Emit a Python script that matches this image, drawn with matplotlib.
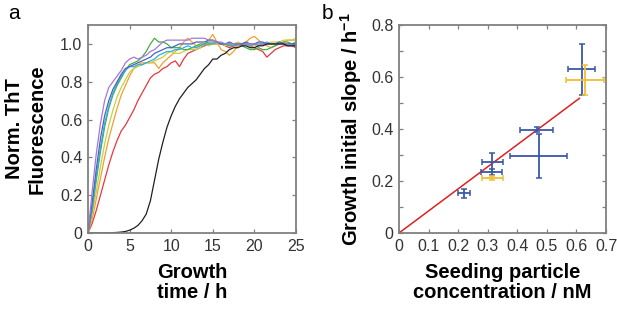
import numpy as np
import matplotlib
matplotlib.use("Agg")
import matplotlib.pyplot as plt
from matplotlib.ticker import MultipleLocator, FuncFormatter

plt.rcParams['font.family'] = ['Liberation Sans', 'DejaVu Sans']
plt.rcParams['mathtext.fontset'] = 'custom'
plt.rcParams['mathtext.rm'] = 'Liberation Sans:bold'
plt.rcParams['mathtext.bf'] = 'Liberation Sans:bold'

# ---------------- Panel a data ----------------
time_h = [0, 0.5, 1, 1.5, 2, 2.5, 3, 3.5, 4, 4.5, 5, 5.5, 6, 6.5, 7, 7.5, 8, 8.5, 9, 9.5,
          10, 10.5, 11, 11.5, 12, 12.5, 13, 13.5, 14, 14.5, 15, 15.5, 16, 16.5, 17, 17.5,
          18, 18.5, 19, 19.5, 20, 20.5, 21, 21.5, 22, 22.5, 23, 23.5, 24, 24.5, 25]

purple = [0, 0.22, 0.42, 0.58, 0.70, 0.77, 0.80, 0.83, 0.86, 0.90, 0.92, 0.93, 0.92, 0.93, 0.94, 0.96,
          0.97, 0.99, 1.01, 1.02, 1.02, 1.02, 1.02, 1.02, 1.02, 1.03, 1.03, 1.03, 1.03, 1.02, 1.02, 1.01,
          1.01, 1.00, 1.00, 1.00, 1.00, 0.99, 1.00, 1.00, 1.00, 0.99, 1.00, 1.00, 1.00, 1.00, 1.00, 1.00,
          1.00, 0.99, 0.99]
blue = [0, 0.16, 0.34, 0.50, 0.62, 0.70, 0.76, 0.80, 0.84, 0.87, 0.88, 0.89, 0.90, 0.91, 0.92, 0.93,
        0.95, 0.96, 0.97, 0.98, 0.98, 0.99, 1.00, 1.00, 1.00, 1.00, 1.01, 1.01, 1.01, 1.02, 1.02, 1.01,
        1.00, 1.00, 1.01, 1.00, 1.00, 1.00, 1.01, 1.00, 1.00, 1.01, 1.01, 1.00, 1.00, 1.00, 1.01, 1.00,
        1.00, 1.00, 1.00]
cyan = [0, 0.13, 0.30, 0.45, 0.58, 0.67, 0.74, 0.79, 0.83, 0.86, 0.88, 0.88, 0.89, 0.89, 0.90, 0.91,
        0.92, 0.94, 0.95, 0.96, 0.96, 0.97, 0.97, 0.98, 0.99, 0.98, 0.98, 0.99, 1.00, 1.00, 1.00, 1.01,
        1.00, 1.00, 1.00, 0.99, 1.00, 1.00, 1.00, 0.99, 1.00, 1.00, 1.00, 1.01, 1.00, 1.00, 1.00, 1.00,
        1.00, 1.00, 1.00]
green = [0, 0.12, 0.28, 0.43, 0.56, 0.66, 0.73, 0.78, 0.82, 0.86, 0.89, 0.90, 0.91, 0.93, 0.96, 1.00,
         1.03, 1.01, 1.01, 1.00, 0.98, 0.98, 0.98, 0.97, 0.97, 0.98, 0.99, 1.00, 1.00, 1.01, 1.01, 1.01,
         1.00, 1.00, 0.99, 0.99, 1.00, 0.99, 0.98, 0.97, 0.97, 0.98, 0.97, 0.97, 0.98, 0.99, 1.00, 1.01,
         1.01, 1.00, 1.01]
yellow = [0, 0.10, 0.22, 0.35, 0.47, 0.57, 0.65, 0.72, 0.77, 0.81, 0.85, 0.87, 0.88, 0.89, 0.90, 0.90,
          0.91, 0.92, 0.93, 0.95, 0.96, 0.95, 0.95, 0.96, 0.97, 0.97, 0.97, 0.98, 1.00, 0.99, 1.00, 1.00,
          1.00, 0.99, 1.00, 1.00, 1.01, 1.00, 1.00, 0.99, 0.99, 1.00, 1.00, 1.00, 1.01, 1.01, 1.01, 1.02,
          1.02, 1.02, 1.03]
orange = [0, 0.07, 0.18, 0.29, 0.40, 0.50, 0.58, 0.66, 0.73, 0.78, 0.83, 0.87, 0.89, 0.90, 0.90, 0.90,
          0.90, 0.87, 0.90, 0.92, 0.94, 0.96, 0.98, 1.01, 1.03, 1.01, 0.99, 0.99, 1.00, 1.02, 1.05, 1.01,
          0.97, 0.96, 0.94, 0.96, 0.99, 1.00, 1.01, 1.03, 1.04, 1.02, 1.00, 0.99, 0.98, 0.99, 1.00, 1.01,
          1.02, 1.02, 1.02]
red = [0, 0.05, 0.12, 0.20, 0.28, 0.36, 0.43, 0.49, 0.54, 0.57, 0.61, 0.65, 0.70, 0.74, 0.78, 0.82,
       0.84, 0.85, 0.87, 0.88, 0.90, 0.91, 0.88, 0.92, 0.95, 0.96, 0.97, 0.98, 0.99, 1.00, 1.00, 1.00,
       1.00, 0.99, 0.98, 0.99, 0.99, 1.00, 1.00, 0.99, 0.98, 0.97, 0.96, 0.93, 0.95, 0.97, 0.98, 0.99,
       0.99, 0.99, 0.98]
black = [0, 0, 0, 0, 0.001, 0.001, 0.002, 0.003, 0.005, 0.008, 0.015, 0.025, 0.04, 0.065, 0.10, 0.17,
         0.28, 0.39, 0.48, 0.56, 0.62, 0.67, 0.71, 0.74, 0.77, 0.79, 0.81, 0.84, 0.87, 0.89, 0.92, 0.92,
         0.94, 0.95, 0.97, 0.98, 0.98, 0.99, 0.99, 0.98, 0.98, 0.99, 0.99, 1.00, 1.00, 1.00, 1.00, 1.00,
         0.99, 0.99, 0.99]

curve_list = [("#e8383a", red), ("#f0a030", orange), ("#c8d040", yellow), ("#40b040", green),
              ("#30b0d8", cyan), ("#4a60c8", blue), ("#a878d0", purple), ("#202020", black)]

# ---------------- Panel b data ----------------
blue_x = [0.220, 0.316, 0.313, 0.465, 0.472, 0.618]
blue_y = [0.152, 0.272, 0.235, 0.398, 0.295, 0.630]
blue_xerr = [0.021, 0.036, 0.035, 0.057, 0.097, 0.046]
blue_yerr = [0.019, 0.037, 0.012, 0.009, 0.085, 0.098]

yellow_x = [0.316, 0.629]
yellow_y = [0.213, 0.588]
yellow_xerr = [0.034, 0.065]
yellow_yerr = [0.008, 0.058]

fit_x = [0.0, 0.61]
fit_y = [0.0, 0.518]

# ---------------- Figure ----------------
fig = plt.figure(figsize=(6.17, 3.11), dpi=100)
axa = fig.add_axes([0.1426, 0.2508, 0.3371, 0.6688])
axb = fig.add_axes([0.6467, 0.2508, 0.3355, 0.6688])

frame_col = "#808080"
tick_col = "#333333"

for ax in (axa, axb):
    for sp in ax.spines.values():
        sp.set_color(frame_col)
        sp.set_linewidth(1.3)
    ax.tick_params(direction='in', length=3, width=0.9, color=frame_col,
                   top=True, right=True, labelsize=11.5, labelcolor=tick_col, pad=4)

for col, ys in curve_list:
    axa.plot(time_h, ys, color=col, lw=0.9)
axa.set_xlim(0, 25)
axa.set_ylim(0, 1.1)
axa.xaxis.set_major_locator(MultipleLocator(5))
axa.yaxis.set_major_locator(MultipleLocator(0.2))
axa.yaxis.set_major_formatter(FuncFormatter(lambda v, p: "0" if abs(v) < 1e-9 else f"{v:.1f}"))
axa.set_xlabel("Growth\ntime / h", fontsize=14.5, fontweight='bold', linespacing=1.05, labelpad=7)
axa.set_ylabel("Norm. ThT\nFluorescence", fontsize=14.5, fontweight='bold', linespacing=1.2, labelpad=10)

axb.plot(fit_x, fit_y, color="#e02020", lw=1.1)
axb.errorbar(blue_x, blue_y, xerr=blue_xerr, yerr=blue_yerr, fmt='none',
             ecolor="#3a58a8", elinewidth=1.3, capsize=2, capthick=1.1)
axb.errorbar(yellow_x, yellow_y, xerr=yellow_xerr, yerr=yellow_yerr, fmt='none',
             ecolor="#f0c030", elinewidth=1.3, capsize=2, capthick=1.1)
axb.set_xlim(0, 0.7)
axb.set_ylim(0, 0.8)
axb.xaxis.set_major_locator(MultipleLocator(0.1))
axb.yaxis.set_major_locator(MultipleLocator(0.1))
axb.xaxis.set_major_formatter(FuncFormatter(lambda v, p: "0" if abs(v) < 1e-9 else f"{v:.1f}"))
axb.yaxis.set_major_formatter(FuncFormatter(
    lambda v, p: "0" if abs(v) < 1e-9 else (f"{v:.1f}" if round(v * 10) % 2 == 0 else "")))
axb.set_xlabel("Seeding particle\nconcentration / nM", fontsize=14.5, fontweight='bold',
               linespacing=1.05, labelpad=7)
axb.set_ylabel("Growth initial slope / h$^{\\mathrm{-1}}$", fontsize=14.5, fontweight='bold', labelpad=5)

fig.text(0.013, 0.955, "a", fontsize=15, va='center', ha='left')
fig.text(0.522, 0.955, "b", fontsize=15, va='center', ha='left')

fig.savefig("out.png", dpi=100)
